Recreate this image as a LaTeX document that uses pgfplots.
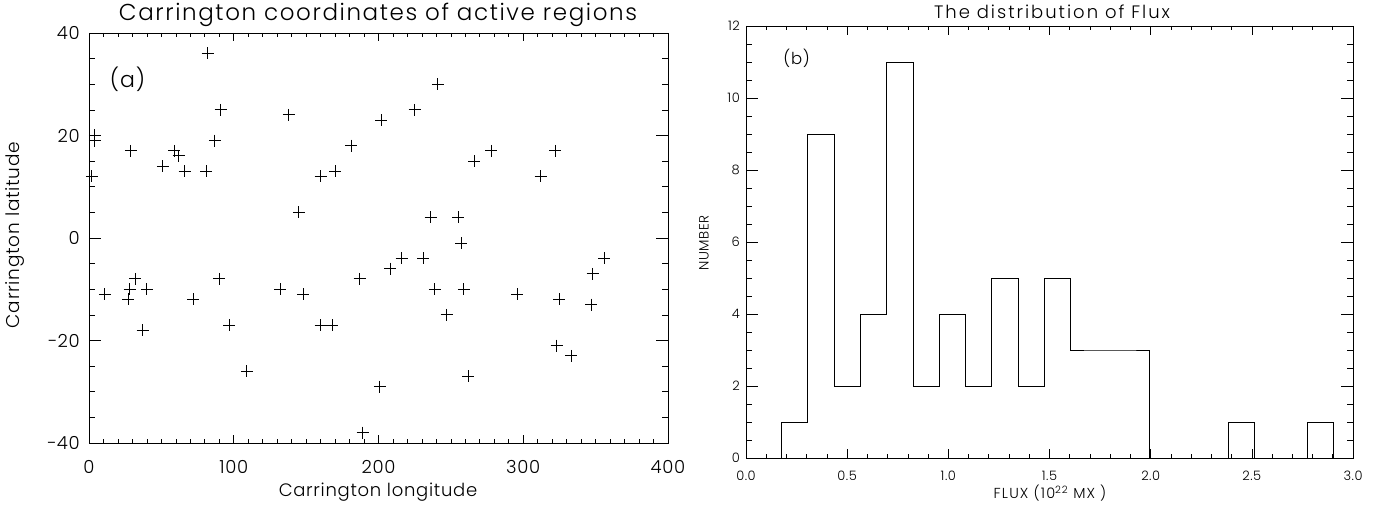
\documentclass[border=0pt]{standalone}
\usepackage{pgfplots}
\pgfplotsset{compat=1.18}
\usepackage{fontspec}
\setmainfont{Poppins Light}[LetterSpace=4]
\newcommand{\fs}[1]{\fontsize{#1}{#1}\selectfont}
\begin{document}
\begin{tikzpicture}
\path[use as bounding box] (0,0) rectangle (1386pt,506pt);
% ---------------- left panel ----------------
\begin{axis}[
  at={(89pt,63pt)}, anchor=south west,
  scale only axis, width=579pt, height=410pt,
  xmin=0, xmax=400, ymin=-40, ymax=40,
  xtick={0,100,200,300,400},
  ytick={-40,-20,0,20,40},
  yticklabels={−40,−20,0,20,40},
  minor x tick num=9, minor y tick num=3,
  tick align=inside, tick pos=both,
  axis line style={line width=0.8pt},
  xtick style={line width=0.7pt, black, /pgfplots/major tick length=8.2pt, /pgfplots/minor tick length=4.1pt},
  ytick style={line width=0.7pt, black, /pgfplots/major tick length=11.6pt, /pgfplots/minor tick length=5.8pt},
  /pgf/number format/assume math mode=true,
  xticklabel style={font=\fs{18}, anchor=center, yshift=-23.7pt},
  yticklabel style={font=\fs{18}, anchor=east, inner sep=0pt, xshift=-9pt},
  clip=false,
]
\addplot[only marks, mark=+, mark size=6pt, mark options={line width=1pt, black}] coordinates {
(2,12)(4,19)(4,20)(11,-11)(27,-12)(28,-10)(29,17)(32,-8)(37,-18)(40,-10)
(51,14)(59,17)(62,16)(66,13)(72,-12)(81,13)(82,36)(87,19)(91,25)(90,-8)
(97,-17)(109,-26)(132,-10)(138,24)(145,5)(148,-11)(160,12)(160,-17)(168,-17)(170,13)
(181,18)(187,-8)(189,-38)(201,-29)(202,23)(208,-6)(216,-4)(225,25)(231,-4)(236,4)
(239,-10)(241,30)(247,-15)(255,4)(257,-1)(259,-10)(262,-27)(266,15)(278,17)(296,-11)
(312,12)(322,17)(323,-21)(325,-12)(333,-23)(347,-13)(348,-7)(356,-4)
};
\node[font=\fs{22}] at (axis cs:26.6,31) {(a)};
\end{axis}
% ---------------- right panel ----------------
\begin{axis}[
  at={(746pt,48pt)}, anchor=south west,
  scale only axis, width=607pt, height=432pt,
  xmin=0, xmax=3, ymin=0, ymax=12,
  xtick={0,0.5,1,1.5,2,2.5,3},
  xticklabels={0.0,0.5,1.0,1.5,2.0,2.5,3.0},
  ytick={0,2,4,6,8,10,12},
  minor x tick num=4, minor y tick num=3,
  tick align=inside, tick pos=both,
  axis line style={line width=0.8pt},
  xtick style={line width=0.7pt, black, /pgfplots/major tick length=8.6pt, /pgfplots/minor tick length=4.3pt},
  ytick style={line width=0.7pt, black, /pgfplots/major tick length=12.1pt, /pgfplots/minor tick length=6pt},
  /pgf/number format/assume math mode=true,
  xticklabel style={font=\fs{13}, anchor=center, yshift=-17.5pt},
  yticklabel style={font=\fs{13}, anchor=east, inner sep=0pt, xshift=-6pt},
  clip=false,
]
\addplot[const plot mark left, black, line width=0.8pt] coordinates {
(0.175,0)(0.175,1)(0.305,9)(0.435,2)(0.565,4)(0.695,11)(0.825,2)(0.955,4)(1.085,2)
(1.215,5)(1.345,2)(1.475,5)(1.605,3)(1.735,3)(1.865,3)(1.995,0)(2.125,0)(2.255,0)
(2.385,1)(2.515,0)(2.645,0)(2.775,1)(2.905,0)
};
\node[font=\fs{16.5}] at (axis cs:0.25,11.1) {(b)};
\end{axis}
% ---------------- titles and labels ----------------
\node[font=\fs{23}] at (378pt,491pt) {\addfontfeature{LetterSpace=7}Carrington coordinates of active regions};
\node[font=\fs{18}] at (378pt,14pt) {Carrington longitude};
\node[font=\fs{18.5}, rotate=90] at (15pt,271pt) {Carrington latitude};
\node[font=\fs{18}] at (1052pt,494pt) {\addfontfeature{LetterSpace=11}The distribution of Flux};
\node[font=\fs{14.5}] at (1050pt,13pt) {\addfontfeature{LetterSpace=8}FLUX (10\textsuperscript{22} MX )};
\node[font=\fs{13.5}, rotate=90] at (704pt,263pt) {NUMBER};
\end{tikzpicture}
\end{document}
